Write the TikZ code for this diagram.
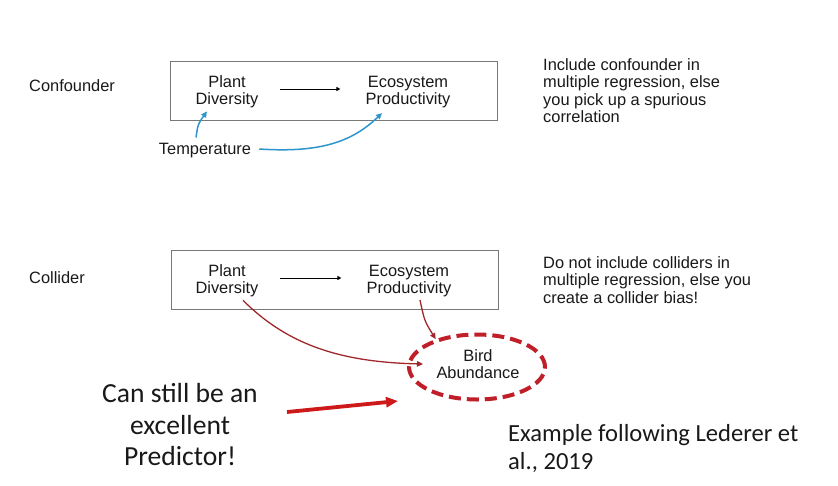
\documentclass[tikz,border=0pt]{standalone}
\usepackage{fontspec}
\setmainfont{Liberation Sans}
\newfontfamily\calib{Carlito}
\usetikzlibrary{arrows.meta,shapes.geometric}
\definecolor{tblue}{RGB}{45,150,205}
\definecolor{tred}{RGB}{160,40,45}
\definecolor{ered}{RGB}{192,30,40}
\definecolor{bred}{RGB}{205,25,25}
\definecolor{boxgray}{RGB}{120,120,120}
\definecolor{txtcol}{RGB}{25,25,25}
\begin{document}
\begin{tikzpicture}[x=1pt,y=-1pt,
  lbl/.style={font=\fontsize{16.4}{17}\selectfont, text=txtcol, inner sep=3pt, align=center},
  note/.style={lbl, font=\fontsize{16.4}{17.4}\selectfont, align=left, anchor=west},
  bigtxt/.style={font=\calib\fontsize{27.6}{31.5}\selectfont, text=txtcol, inner sep=3pt, align=center},
  extxt/.style={font=\calib\fontsize{24.6}{28}\selectfont, text=txtcol, inner sep=3pt, align=left, anchor=west},
  boxst/.style={draw=boxgray, line width=0.9pt, minimum width=327pt, minimum height=59pt, inner sep=0pt},
  blkarrow/.style={-{Triangle[length=4pt,width=4pt]}, line width=0.9pt, black},
  bluearrow/.style={-{Triangle[length=6pt,width=5.5pt]}, line width=1.5pt, tblue},
  redarrow/.style={-{Triangle[length=6pt,width=5.5pt]}, line width=1.3pt, tred},
  bigarrow/.style={-{Triangle[length=12pt,width=10pt]}, line width=3.8pt, bred},
  dashell/.style={ellipse, draw=ered, line width=4pt, dash pattern=on 12pt off 6pt, minimum width=136pt, minimum height=65pt, inner sep=0pt}
]
\useasboundingbox[fill=white] (0,0) rectangle (838,485);

% ---------- Confounder ----------
\node[lbl, anchor=base west] (conf) at (26,91) {Confounder};
\node[boxst] (box1) at (334,90.5) {};
\node[lbl] (pd1) at (227,92) {Plant\\Diversity};
\node[lbl] (ep1) at (408,92) {Ecosystem\\Productivity};
\node[lbl] (temp) at (205,151) {Temperature};
\draw[blkarrow, shorten <=18pt, shorten >=22pt] ([yshift=3pt]pd1.east) -- ([yshift=3pt]ep1.west);
\draw[bluearrow] ([xshift=-9pt,yshift=3pt]temp.north) .. controls (198,124) .. ([xshift=-20pt]pd1.south);
\draw[bluearrow] ([xshift=5pt,yshift=2pt]temp.east) .. controls (320,153) and (352,142) .. ([xshift=-26pt,yshift=-2pt]ep1.south);
\node[note] (note1) at (540,90.5) {Include confounder in\\multiple regression, else\\you pick up a spurious\\correlation};

% ---------- Collider ----------
\node[lbl, anchor=base west] (coll) at (26,283) {Collider};
\node[boxst] (box2) at (334.5,279.5) {};
\node[lbl] (pd2) at (227,281) {Plant\\Diversity};
\node[lbl] (ep2) at (409,281) {Ecosystem\\Productivity};
\draw[blkarrow, shorten <=18pt, shorten >=22pt] ([yshift=3pt]pd2.east) -- ([yshift=3pt]ep2.west);
\node[note] (note2) at (540,280) {Do not include colliders in\\multiple regression, else you\\create a collider bias!};

\node[dashell] (bird) at (477,367) {};
\node[lbl] (birdtxt) at (478,364) {Bird\\Abundance};
\draw[redarrow] ([xshift=16pt]pd2.south) .. controls (285,342) and (335,362) .. ([xshift=16pt,yshift=3pt]bird.west);
\draw[redarrow] ([xshift=11pt]ep2.south) .. controls (424.5,321) .. (bird.146);

% ---------- bottom ----------
\node[bigtxt] (pred) at (180,425) {Can still be an\\excellent\\Predictor!};
\coordinate (bigA) at (287,412);
\coordinate (bigB) at (398,401);
\draw[bigarrow] (bigA) -- (bigB);
\node[extxt] (ex) at (505,448.5) {Example following Lederer et\\al., 2019};
\end{tikzpicture}
\end{document}
